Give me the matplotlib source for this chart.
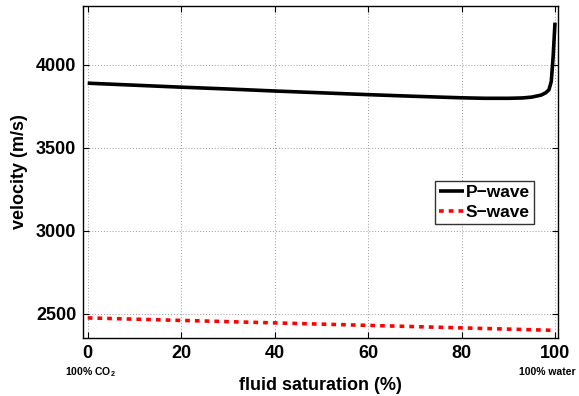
import matplotlib
matplotlib.use("Agg")
import matplotlib.pyplot as plt

plt.rcParams['font.family'] = ['Liberation Sans', 'DejaVu Sans']
plt.rcParams['font.weight'] = 'bold'
plt.rcParams['mathtext.fontset'] = 'custom'
plt.rcParams['mathtext.bf'] = 'Liberation Sans:bold'

saturation = [0, 10, 20, 30, 40, 50, 60, 70, 80, 85, 90, 93, 95, 97, 98, 98.7, 99.2, 99.6, 100]
p_wave = [3890, 3878, 3866, 3855, 3843, 3832, 3821, 3811, 3802, 3799, 3799, 3801, 3806, 3818, 3832, 3850, 3900, 4050, 4255]
s_sat = [0, 20, 40, 60, 80, 100]
s_wave = [2476, 2461, 2446, 2431, 2416, 2401]

xticks = [0, 20, 40, 60, 80, 100]
yticks = [2500, 3000, 3500, 4000]

fig = plt.figure(figsize=(5.79, 3.96), dpi=100)
ax = fig.add_axes([83.3/579, 1-338/396, (558-83.3)/579, 332/396])

ax.plot(saturation, p_wave, color='black', lw=2.6, label='P\u2212wave', solid_capstyle='butt')
ax.plot(s_sat, s_wave, color='red', lw=2.6, linestyle=(0, (1.3, 1.4)), dash_capstyle='butt', label='S\u2212wave')

ax.set_xlim(-0.94, 100.64)
ax.set_ylim(2355, 4355)
ax.set_xticks(xticks)
ax.set_yticks(yticks)
ax.tick_params(direction='in', top=True, right=True, labelsize=13, length=4, width=0.8, pad=5)
for lab in ax.get_xticklabels() + ax.get_yticklabels():
    lab.set_fontweight('bold')
ax.grid(True, linestyle=(0, (1, 2)), color='#999999', lw=0.7)
for s in ax.spines.values():
    s.set_linewidth(1.0)

ax.set_xlabel('fluid saturation (%)', fontsize=13, fontweight='bold', labelpad=11)
ax.set_ylabel('velocity (m/s)', fontsize=13, fontweight='bold', labelpad=6)

fig.text(65/579, 1-372/396, '100% CO$_\\mathbf{2}$', fontsize=7.5, fontweight='bold', ha='left', va='center')
fig.text(576/579, 1-372/396, '100% water', fontsize=7.5, fontweight='bold', ha='right', va='center')

leg = ax.legend(loc='upper left', bbox_to_anchor=((435-83.3)/474.7, (338-181)/332), fontsize=12.5, frameon=True,
                fancybox=False, edgecolor='black', handlelength=1.4, handletextpad=0.1,
                borderpad=0.25, labelspacing=0.25, borderaxespad=0)
leg.get_frame().set_linewidth(1.0)
for t in leg.get_texts():
    t.set_fontweight('bold')

fig.savefig('out.png', dpi=100)
